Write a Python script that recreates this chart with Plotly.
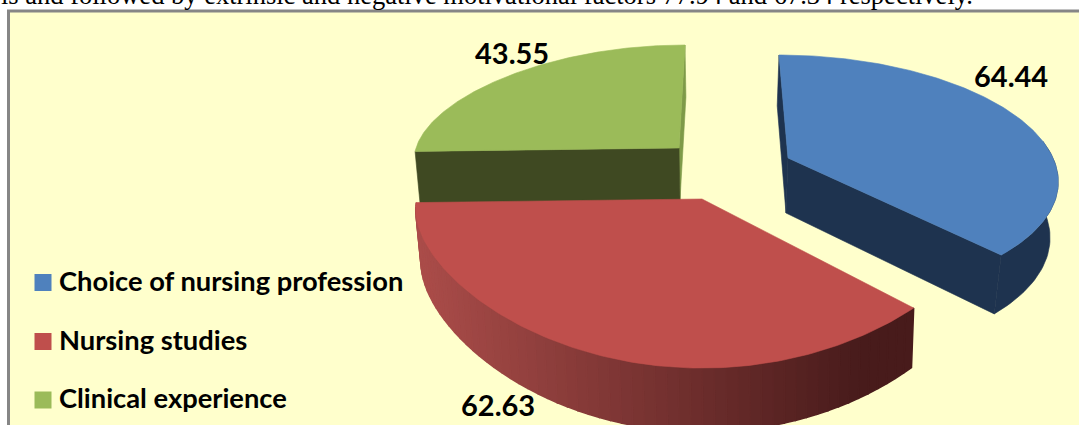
import numpy as np
import plotly.graph_objects as go

categories = ["Choice of nursing profession", "Nursing studies", "Clinical experience"]
values = [64.44, 62.63, 43.55]
top_text = "is and followed by extrinsic and negative motivational factors 77.94 and 67.34 respectively."

TOP = ["#4F81BD", "#BF4F4C", "#9BBB59"]
BG = "#FFFFCC"
W, H = 1079, 425

# per-slice projection of the exploded, tilted pie
GEO = [
    dict(cx=788, cy=158, rx=265, ry=121.6, kx=.17, ky=.153, sk=9, bx=-2, by=55, sx=.977, sy=1.04),
    dict(cx=702, cy=199, rx=285, ry=107, kx=.095, ky=.58, sk=0, bx=1, by=52, sx=.985, sy=1.07),
    dict(cx=679, cy=148, rx=263, ry=103, kx=.1, ky=.0, sk=-6, bx=1, by=52, sx=.985, sy=1.0),
]
total = sum(values)
edges = np.concatenate([[0], np.cumsum(values)]) / total * 2 * np.pi


def proj(g, t, bottom=False):
    v = -np.cos(t)
    x = g["rx"] * np.sin(t) * (1 + g["kx"] * v) + g["sk"] * v
    y = g["ry"] * v * (1 + g["ky"] * v)
    if bottom:
        return g["cx"] + g["bx"] + g["sx"] * x, g["cy"] + g["by"] + g["sy"] * y
    return g["cx"] + x, g["cy"] + y


def poly(fig, xs, ys, color, width=0.6):
    fig.add_trace(go.Scatter(x=list(xs), y=list(ys), mode="lines", fill="toself",
                             fillcolor=color, line=dict(color=color, width=width),
                             hoverinfo="skip", showlegend=False))


def radial_face(fig, g, t, color):
    tx, ty = proj(g, t)
    bx, by = proj(g, t, True)
    poly(fig, [g["cx"], tx, bx, g["cx"] + g["bx"], g["cx"]],
         [g["cy"], ty, by, g["cy"] + g["by"], g["cy"]], color)


def rim_piece(fig, g, a, b, color, width=0.6):
    t = np.linspace(a, b, 40)
    x1, y1 = proj(g, t)
    x2, y2 = proj(g, t[::-1], True)
    poly(fig, np.r_[x1, x2, x1[0]], np.r_[y1, y2, y1[0]], color, width)


def top_face(fig, g, a, b, color):
    t = np.linspace(a, b, 160)
    x, y = proj(g, t)
    poly(fig, np.r_[g["cx"], x, g["cx"]], np.r_[g["cy"], y, g["cy"]], color)


def lerp(c1, c2, f):
    return "rgb(%d,%d,%d)" % tuple(round(p + (q - p) * f) for p, q in zip(c1, c2))


fig = go.Figure()

# Clinical experience (back)
g = GEO[2]
radial_face(fig, g, edges[3], "#7E9A48")
radial_face(fig, g, edges[2], "#3F4922")
top_face(fig, g, edges[2], edges[3], TOP[2])

# Choice of nursing profession
g = GEO[0]
radial_face(fig, g, edges[0], "#1E334F")
rim_piece(fig, g, np.radians(82), edges[1], "#1E334F")
radial_face(fig, g, edges[1], "#1E334F")
top_face(fig, g, edges[0], edges[1], TOP[0])

# Nursing studies (front), rim shaded from left to right
g = GEO[1]
ts = np.linspace(edges[1], edges[2], 61)
for a, b in zip(ts[:-1], ts[1:]):
    mid_x, _ = proj(g, (a + b) / 2)
    f = float(np.clip((860 - mid_x) / (860 - 420), 0, 1))
    rim_piece(fig, g, a, b, lerp((72, 27, 27), (170, 76, 73), f), 1.6)
top_face(fig, g, edges[1], edges[2], TOP[1])

# Legend keys and their texts
key_y = [282.5, 341.5, 400]
fig.add_trace(go.Scatter(x=[43, 43, 43], y=key_y, mode="markers",
                         marker=dict(symbol="square", size=17, color=TOP),
                         hoverinfo="skip", showlegend=False, cliponaxis=False))
fig.add_trace(go.Scatter(x=[59, 59, 59], y=[k + 1.5 for k in key_y], mode="text",
                         text=categories, textposition="middle right",
                         textfont=dict(family="Lato", size=27.3, color="#000000", weight="bold"),
                         hoverinfo="skip", showlegend=False, cliponaxis=False))

label_pos = [(1011, 75), (498, 404), (512, 52)]
for val, (x, y) in zip(values, label_pos):
    fig.add_annotation(x=x, y=y, text=f"<b>{val}</b>", showarrow=False,
                       font=dict(family="Lato", size=29, color="#000000"))

fig.add_annotation(xref="paper", yref="paper", x=-1.5 / W, y=1 + 5 / H, xanchor="left", yanchor="middle",
                   text=top_text, showarrow=False, align="left",
                   font=dict(family="Liberation Serif", size=26.5, color="#000000"))

fig.update_layout(
    width=W, height=H, autosize=False, margin=dict(l=0, r=0, t=0, b=0),
    paper_bgcolor="#FFFFFF", plot_bgcolor="#FFFFFF",
    xaxis=dict(range=[0, W], visible=False, fixedrange=True),
    yaxis=dict(range=[H, 0], visible=False, fixedrange=True),
    shapes=[dict(type="rect", xref="x", yref="y", x0=8.5, y0=11, x1=W + 20, y1=H + 20,
                 fillcolor=BG, line=dict(color="#868686", width=3), layer="below")],
    showlegend=False,
)
fig.write_html("out.html", config={"displayModeBar": False},
               post_script="document.body.style.margin='0';document.documentElement.style.overflow='hidden';")
